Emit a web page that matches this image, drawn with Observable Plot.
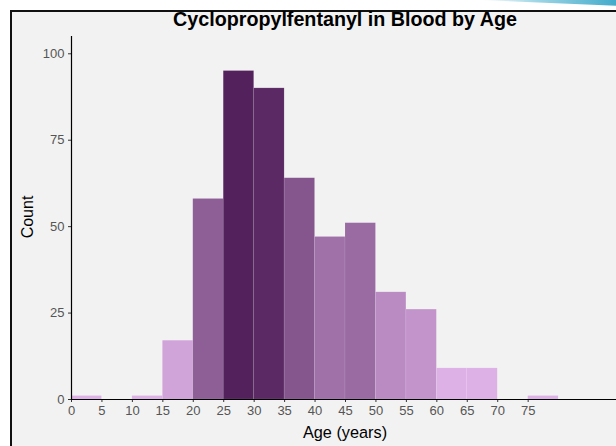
<!DOCTYPE html>
<html>
<head>
<meta charset="utf-8">
<script src="https://cdn.jsdelivr.net/npm/d3@7"></script>
<script src="https://cdn.jsdelivr.net/npm/@observablehq/plot@0.6"></script>
<style>
  html, body { margin: 0; padding: 0; }
  body { width: 616px; height: 446px; background: #fff; position: relative; overflow: hidden;
         font-family: "Liberation Sans", Arial, sans-serif; }
  #swoosh { position: absolute; left: 480px; top: 0; width: 140px; height: 6px;
            background: linear-gradient(90deg, rgba(255,255,255,0) 0%, #9fd6e6 40%, #3fa9c9 100%);
            clip-path: polygon(0 0, 100% 0, 100% 100%); }
  #frame { position: absolute; left: 10px; top: 10px; width: 640px; height: 460px;
           border: 2px solid #111; background: #f2f2f2; }
  #chart { position: absolute; left: 0; top: 0; }
  #title { position: absolute; left: 145px; width: 400px; top: 9px; text-align: center;
           font-weight: bold; font-size: 19.7px; line-height: 20px; color: #000; white-space: nowrap; }
  #xlabel { position: absolute; left: 245px; width: 200px; top: 423px; text-align: center;
            font-size: 16.3px; line-height: 18px; color: #000; }
  #ylabel { position: absolute; left: 28px; top: 217px; transform: translate(-50%, -50%) rotate(-90deg);
            font-size: 16px; line-height: 18px; color: #000; white-space: nowrap; }
</style>
</head>
<body>
<div id="swoosh"></div>
<div id="frame"></div>
<div id="chart"></div>
<div id="title">Cyclopropylfentanyl in Blood by Age</div>
<div id="xlabel">Age (years)</div>
<div id="ylabel">Count</div>
<script>
// Age bins (start of each 5-year bin) and counts
const binStarts = [0, 5, 10, 15, 20, 25, 30, 35, 40, 45, 50, 55, 60, 65, 70, 75];
const counts    = [1, 0, 1, 17, 58, 95, 90, 64, 47, 51, 31, 26, 9, 9, 0, 1];
const binWidth = 5;
const xTicks = [0, 5, 10, 15, 20, 25, 30, 35, 40, 45, 50, 55, 60, 65, 70, 75];
const yTicks = [0, 25, 50, 75, 100];

const data = binStarts.map((s, i) => ({start: s, end: s + binWidth, count: counts[i]}))
  .filter(d => d.count > 0);

const chart = Plot.plot({
  width: 616,
  height: 446,
  marginLeft: 71,
  marginRight: 0,
  marginTop: 36,
  marginBottom: 47,
  style: {background: "transparent", fontFamily: "Liberation Sans, Arial, sans-serif", overflow: "visible"},
  x: {domain: [0, 90], range: [71, 619]},
  y: {domain: [0, 105], range: [399, 36]},
  color: {type: "linear", domain: [9, 95], range: ["#ddb0e6", "#53215c"], clamp: true, interpolate: "rgb"},
  marks: [
    Plot.rectY(data, {x1: "start", x2: "end", y: "count", fill: "count",
      stroke: "#ffffff", strokeOpacity: 0.15, strokeWidth: 0.6}),
    Plot.axisY({ticks: yTicks, tickSize: 3, tickPadding: 4, fontSize: 13, stroke: "#333", fill: "#555", label: null}),
    Plot.axisX({ticks: xTicks, tickSize: 3, tickPadding: 3, fontSize: 13, stroke: "#333", fill: "#555", label: null}),
    Plot.ruleX([0], {stroke: "#000", strokeWidth: 1.2}),
    Plot.ruleY([0], {stroke: "#000", strokeWidth: 1.2})
  ]
});
document.getElementById("chart").appendChild(chart);
</script>
</body>
</html>
